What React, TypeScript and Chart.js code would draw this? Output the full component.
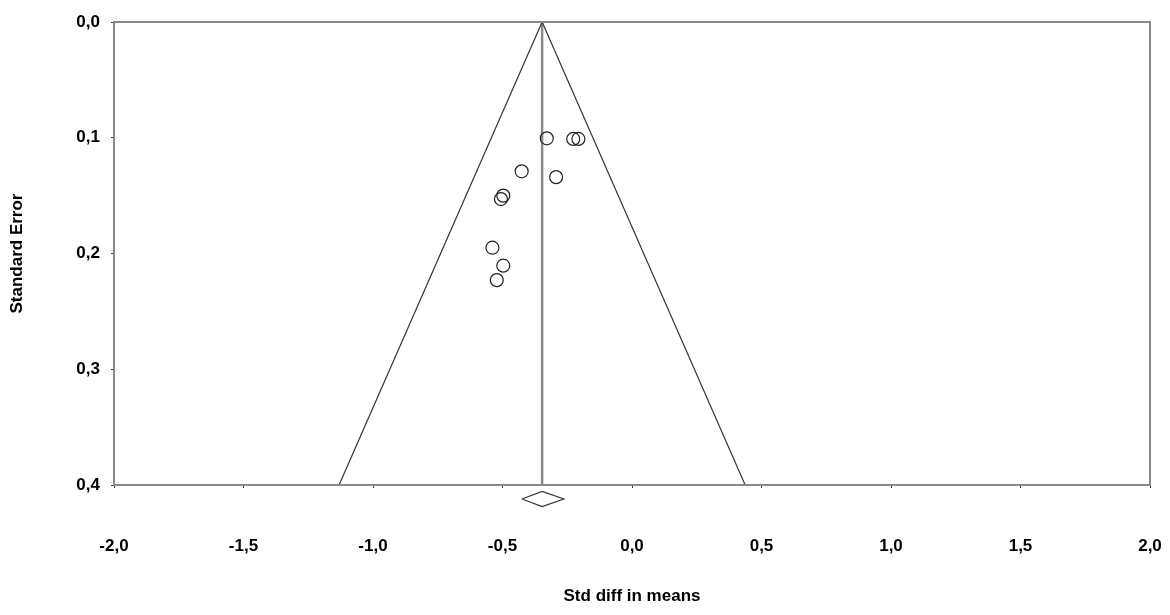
import React, { useEffect, useRef } from "react";
import { Chart, registerables } from "chart.js";

Chart.register(...registerables);

// Study effects (Std diff in means) and their standard errors
const studyEffects = [-0.329, -0.227, -0.207, -0.426, -0.293, -0.497, -0.506, -0.539, -0.497, -0.522];
const studySE = [0.1005, 0.101, 0.101, 0.129, 0.134, 0.150, 0.153, 0.195, 0.2105, 0.223];

// Summary effect and its confidence interval
const summaryEffect = -0.347;
const summaryLow = -0.425;
const summaryHigh = -0.263;
// Vertical placement of the summary diamond (in SE units, below the axis)
const diamondY = [0.4056, 0.4121, 0.4186];

// Funnel standard-error range
const funnelSE = [0, 0.4];
const zCrit = 1.96;

// Axis ticks
const xMin = -2;
const xMax = 2;
const xStep = 0.5;
const yMin = 0;
const yMax = 0.4;
const yStep = 0.1;

const fmt = (v: number) => v.toFixed(1).replace(".", ",");

const FONT = "'Liberation Sans', Arial, sans-serif";

export default function App() {
  const canvasRef = useRef<HTMLCanvasElement | null>(null);

  useEffect(() => {
    const canvas = canvasRef.current;
    if (!canvas) return;

    const points = studyEffects.map((x, i) => ({ x, y: studySE[i] }));
    const funnel = [
      { x: summaryEffect - zCrit * funnelSE[1], y: funnelSE[1] },
      { x: summaryEffect, y: funnelSE[0] },
      { x: summaryEffect + zCrit * funnelSE[1], y: funnelSE[1] },
    ];
    const meanLine = [
      { x: summaryEffect, y: funnelSE[0] },
      { x: summaryEffect, y: funnelSE[1] },
    ];
    const diamond = [
      { x: summaryLow, y: diamondY[1] },
      { x: summaryEffect, y: diamondY[0] },
      { x: summaryHigh, y: diamondY[1] },
      { x: summaryEffect, y: diamondY[2] },
      { x: summaryLow, y: diamondY[1] },
    ];

    const framePlugin = {
      id: "frame",
      afterDatasetsDraw(chart: any) {
        const { ctx, chartArea } = chart;
        ctx.save();
        ctx.strokeStyle = "#8a8a8a";
        ctx.lineWidth = 2;
        ctx.strokeRect(
          chartArea.left,
          chartArea.top,
          chartArea.right - chartArea.left,
          chartArea.bottom - chartArea.top
        );
        ctx.restore();
      },
    };

    const chart = new Chart(canvas, {
      type: "scatter",
      data: {
        datasets: [
          {
            label: "Mean",
            data: meanLine,
            showLine: true,
            borderColor: "#8a8a8a",
            borderWidth: 2.5,
            pointRadius: 0,
            order: 3,
          },
          {
            label: "Funnel",
            data: funnel,
            showLine: true,
            borderColor: "#333333",
            borderWidth: 1.2,
            pointRadius: 0,
            order: 2,
          },
          {
            label: "Studies",
            data: points,
            pointStyle: "circle",
            pointRadius: 6.5,
            pointBorderWidth: 1.2,
            pointBorderColor: "#222222",
            pointBackgroundColor: "rgba(255,255,255,0)",
            order: 1,
          },
          {
            label: "Summary",
            data: diamond,
            showLine: true,
            borderColor: "#333333",
            borderWidth: 1.2,
            backgroundColor: "#ffffff",
            fill: false,
            pointRadius: 0,
            clip: false as any,
            order: 0,
          },
        ],
      },
      options: {
        animation: false,
        responsive: true,
        maintainAspectRatio: false,
        layout: { padding: { top: 22, right: 20, left: 0, bottom: 0 } },
        plugins: {
          legend: { display: false },
          tooltip: { enabled: false },
        },
        scales: {
          x: {
            type: "linear",
            min: xMin,
            max: xMax,
            afterFit: (s: any) => {
              s.height = 130;
              s.paddingLeft = 0;
              s.paddingRight = 0;
            },
            ticks: {
              stepSize: xStep,
              autoSkip: false,
              maxRotation: 0,
              padding: 48,
              color: "#000",
              font: { family: FONT, size: 17, weight: "bold" },
              callback: (v: any) => fmt(Number(v)),
            },
            grid: {
              display: true,
              drawOnChartArea: false,
              drawTicks: true,
              tickLength: 3,
              color: "#333",
            },
            border: { display: true, color: "#8a8a8a", width: 2 },
            title: {
              display: true,
              text: "Std diff in means",
              color: "#000",
              font: { family: FONT, size: 17, weight: "bold" },
              padding: { top: 0, bottom: 8 },
            },
          },
          y: {
            type: "linear",
            reverse: true,
            min: yMin,
            max: yMax,
            afterFit: (s: any) => {
              s.width = 114;
              s.paddingTop = 0;
              s.paddingBottom = 0;
            },
            ticks: {
              stepSize: yStep,
              padding: 11,
              color: "#000",
              font: { family: FONT, size: 17, weight: "bold" },
              callback: (v: any) => fmt(Number(v)),
            },
            grid: {
              display: true,
              drawOnChartArea: false,
              drawTicks: true,
              tickLength: 3,
              color: "#333",
            },
            border: { display: true, color: "#8a8a8a", width: 2 },
            title: {
              display: true,
              text: "Standard Error",
              color: "#000",
              font: { family: FONT, size: 17, weight: "bold" },
              padding: { top: 7, bottom: 0 },
            },
          },
        },
      },
      plugins: [framePlugin],
    });

    return () => chart.destroy();
  }, []);

  return (
    <div
      style={{
        position: "fixed",
        left: 0,
        top: 0,
        width: 1170,
        height: 615,
        background: "#fff",
      }}
    >
      <canvas ref={canvasRef} />
    </div>
  );
}
